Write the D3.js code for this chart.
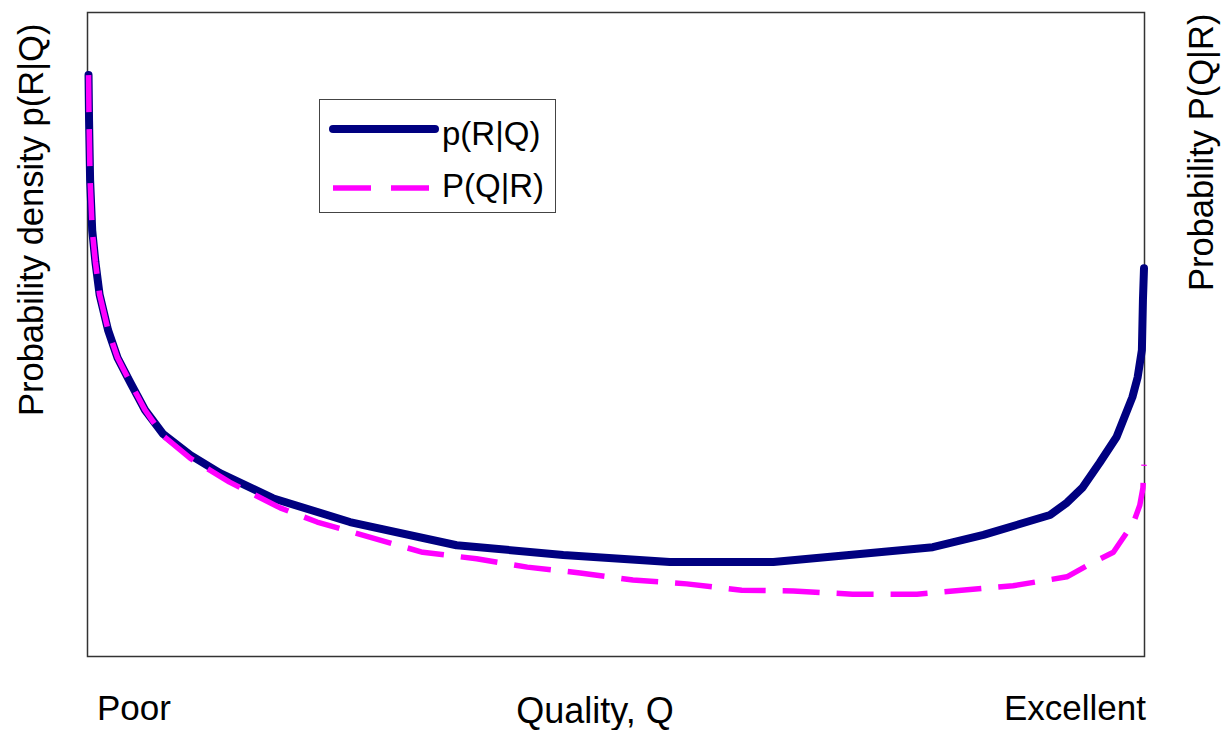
<!DOCTYPE html>
<html>
<head>
<meta charset="utf-8">
<script src="https://cdn.jsdelivr.net/npm/d3@7"></script>
<style>
  html, body { margin: 0; padding: 0; background: #fff; }
  svg { display: block; }
  text { font-family: "Liberation Sans", Arial, sans-serif; fill: #000; }
</style>
</head>
<body>
<svg id="chart" width="1222" height="730"></svg>
<script>
// Quality axis positions (0 = Poor, 1 = Excellent) and curve values (relative units)
const qualityBlue = [0.0005, 0.001, 0.002, 0.004, 0.007, 0.011, 0.019, 0.028, 0.040, 0.054, 0.071, 0.097, 0.125, 0.175, 0.248, 0.349, 0.450, 0.551, 0.649, 0.703, 0.800, 0.848, 0.911, 0.927, 0.942, 0.958, 0.974, 0.989, 0.994, 0.998, 0.999, 1.0];
const densityRQ   = [0.902, 0.832, 0.739, 0.661, 0.612, 0.561, 0.506, 0.463, 0.425, 0.382, 0.345, 0.312, 0.284, 0.245, 0.208, 0.172, 0.157, 0.146, 0.146, 0.154, 0.169, 0.188, 0.219, 0.238, 0.262, 0.300, 0.340, 0.402, 0.433, 0.475, 0.553, 0.602];

const qualityMag  = [0.0005, 0.001, 0.002, 0.004, 0.007, 0.011, 0.019, 0.028, 0.040, 0.054, 0.071, 0.097, 0.134, 0.182, 0.217, 0.270, 0.317, 0.368, 0.416, 0.466, 0.516, 0.567, 0.619, 0.668, 0.724, 0.785, 0.876, 0.927, 0.949, 0.971, 0.990, 0.996, 0.999, 1.0];
const probQR      = [0.902, 0.832, 0.739, 0.661, 0.612, 0.561, 0.506, 0.463, 0.425, 0.382, 0.342, 0.307, 0.270, 0.230, 0.208, 0.183, 0.161, 0.151, 0.138, 0.129, 0.118, 0.112, 0.102, 0.101, 0.096, 0.096, 0.109, 0.123, 0.143, 0.161, 0.207, 0.234, 0.261, 0.297];

const seriesNames = ["p(R|Q)", "P(Q|R)"];
const xEndLabels = ["Poor", "Excellent"];
const xTitle = "Quality, Q";
const yLeftTitle = "Probability density p(R|Q)";
const yRightTitle = "Probability P(Q|R)";

const svg = d3.select("#chart");
const plot = { left: 88, right: 1144, top: 12, bottom: 656 };

const x = d3.scaleLinear().domain([0, 1]).range([plot.left, plot.right]);
const y = d3.scaleLinear().domain([0, 1]).range([plot.bottom, plot.top]);

// frame
svg.append("rect")
  .attr("x", plot.left - 0.5).attr("y", plot.top + 0.5)
  .attr("width", plot.right - plot.left + 1).attr("height", plot.bottom - plot.top)
  .attr("fill", "none").attr("stroke", "#333").attr("stroke-width", 1.5);

const line = d3.line().x(d => x(d[0])).y(d => y(d[1]));

const blueData = qualityBlue.map((q, i) => [q, densityRQ[i]]);
const magData = qualityMag.map((q, i) => [q, probQR[i]]);

svg.append("path").datum(blueData)
  .attr("d", line).attr("fill", "none")
  .attr("stroke", "#000080").attr("stroke-width", 8)
  .attr("stroke-linejoin", "round").attr("stroke-linecap", "round");

svg.append("path").datum(magData)
  .attr("d", line).attr("fill", "none")
  .attr("stroke", "#ff00ff").attr("stroke-width", 5.5)
  .attr("stroke-dasharray", "37,17")
  .attr("stroke-linejoin", "round");

// legend
const lg = svg.append("g");
lg.append("rect").attr("x", 319.5).attr("y", 99.5).attr("width", 236).attr("height", 113)
  .attr("fill", "#fff").attr("stroke", "#444").attr("stroke-width", 1);
lg.append("line").attr("x1", 333).attr("x2", 435).attr("y1", 129).attr("y2", 129)
  .attr("stroke", "#000080").attr("stroke-width", 8).attr("stroke-linecap", "round");
lg.append("line").attr("x1", 333).attr("x2", 431).attr("y1", 188).attr("y2", 188)
  .attr("stroke", "#ff00ff").attr("stroke-width", 5.5).attr("stroke-dasharray", "38,20");
lg.append("text").attr("x", 442).attr("y", 145).attr("font-size", 33).text(seriesNames[0]);
lg.append("text").attr("x", 442).attr("y", 197).attr("font-size", 33).text(seriesNames[1]);

// axis labels
svg.append("text").attr("x", 97).attr("y", 720).attr("font-size", 35).text(xEndLabels[0]);
svg.append("text").attr("x", 1146).attr("y", 720).attr("font-size", 35).attr("text-anchor", "end").text(xEndLabels[1]);
svg.append("text").attr("x", 595).attr("y", 723).attr("font-size", 36).attr("text-anchor", "middle").text(xTitle);

svg.append("text").attr("transform", "translate(43,416) rotate(-90)")
  .attr("font-size", 34.5).text(yLeftTitle);
svg.append("text").attr("transform", "translate(1213,291) rotate(-90)")
  .attr("font-size", 34.5).text(yRightTitle);
</script>
</body>
</html>
